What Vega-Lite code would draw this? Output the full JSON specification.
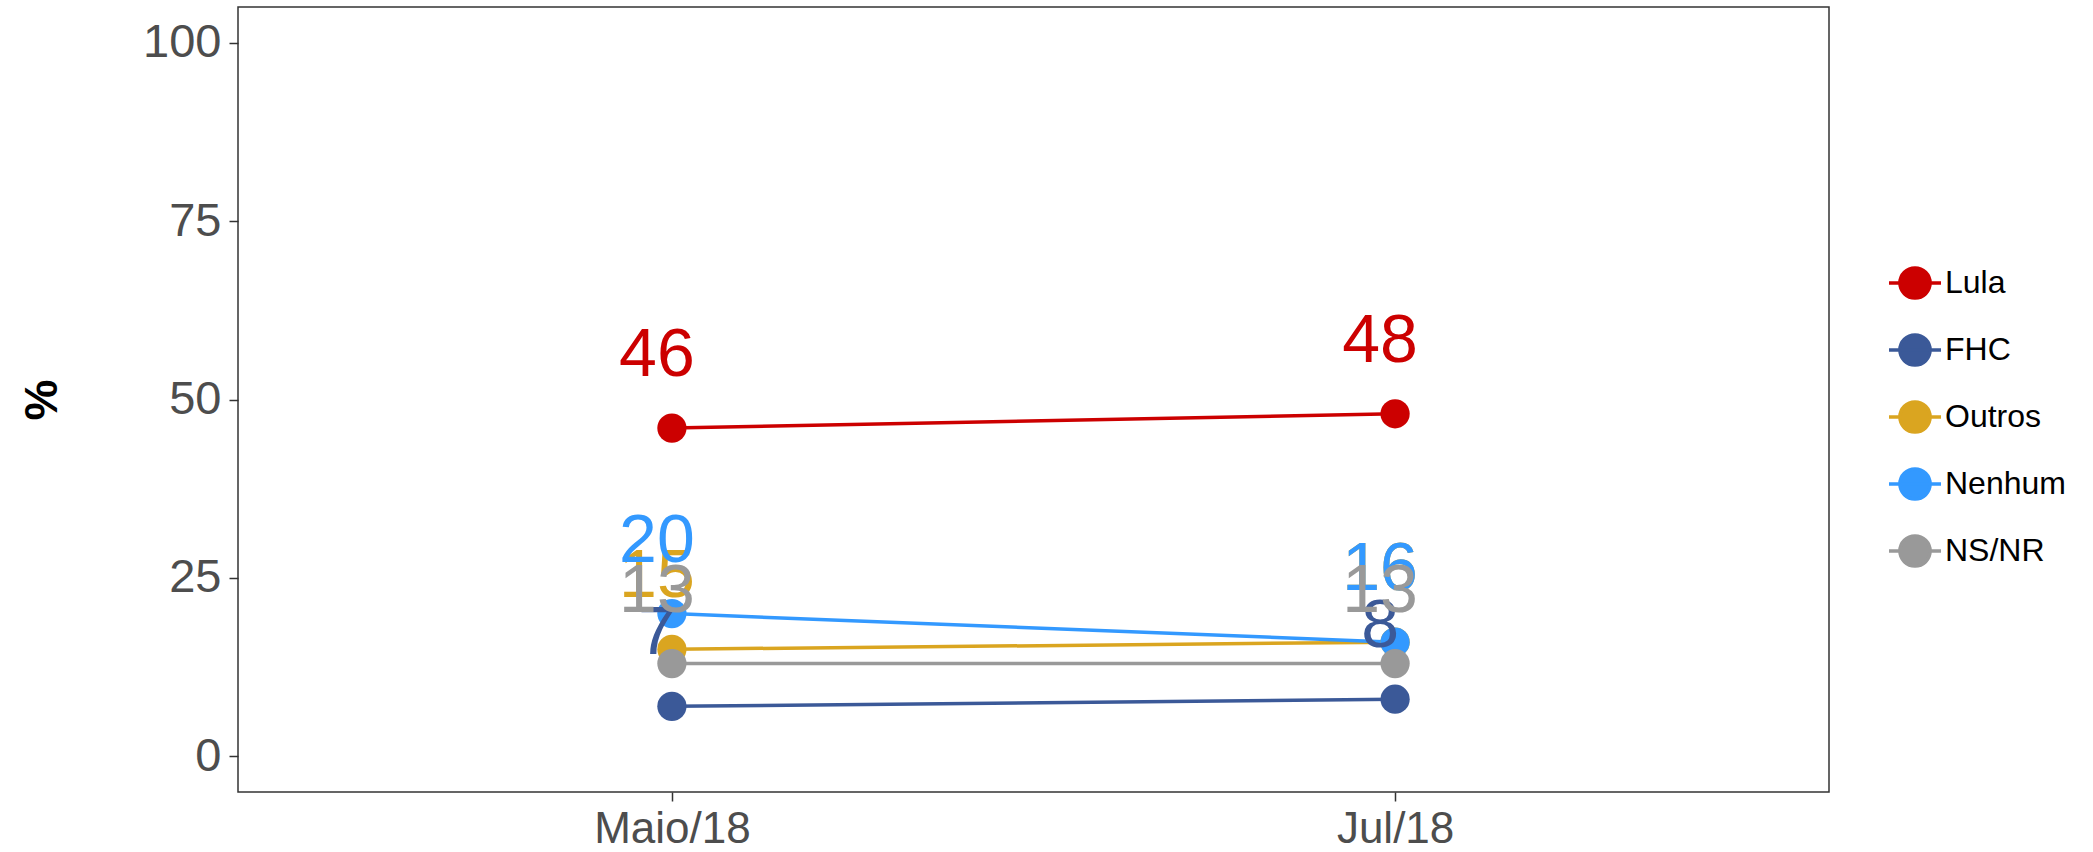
{
  "$schema": "https://vega.github.io/schema/vega-lite/v6.json",
  "autosize": {"type": "none"},
  "padding": {"left": 238, "top": 7, "right": 264, "bottom": 60},
  "width": 1591,
  "height": 785,
  "background": "white",
  "config": {
    "font": "Liberation Sans",
    "view": {"stroke": "#333333", "strokeWidth": 1.5},
    "axis": {"grid": false, "domain": false, "tickColor": "#333333", "tickSize": 9, "tickWidth": 1.5, "labelColor": "#4D4D4D", "labelFont": "Liberation Sans"}
  },
  "data": {
    "values": [
      {"pesquisa": "Maio/18", "serie": "Lula", "valor": 46},
      {"pesquisa": "Jul/18", "serie": "Lula", "valor": 48},
      {"pesquisa": "Maio/18", "serie": "FHC", "valor": 7},
      {"pesquisa": "Jul/18", "serie": "FHC", "valor": 8},
      {"pesquisa": "Maio/18", "serie": "Outros", "valor": 15},
      {"pesquisa": "Jul/18", "serie": "Outros", "valor": 16},
      {"pesquisa": "Maio/18", "serie": "Nenhum", "valor": 20},
      {"pesquisa": "Jul/18", "serie": "Nenhum", "valor": 16},
      {"pesquisa": "Maio/18", "serie": "NS/NR", "valor": 13},
      {"pesquisa": "Jul/18", "serie": "NS/NR", "valor": 13}
    ]
  },
  "encoding": {
    "x": {
      "field": "pesquisa", "type": "ordinal",
      "scale": {"type": "point", "domain": ["Maio/18", "Jul/18"], "padding": 0.6},
      "axis": {"title": null, "labelFontSize": 44, "labelAngle": 0, "labelPadding": 6}
    },
    "y": {
      "field": "valor", "type": "quantitative",
      "scale": {"domain": [-5, 105], "nice": false, "zero": false},
      "axis": {"title": "%", "values": [0, 25, 50, 75, 100], "labelFontSize": 47, "labelPadding": 8, "titleFontSize": 46, "titleFontWeight": "bold", "titleColor": "#000000", "titlePadding": 76}
    },
    "color": {
      "field": "serie", "type": "nominal",
      "scale": {"domain": ["Lula", "FHC", "Outros", "Nenhum", "NS/NR"], "range": ["#CC0000", "#3B5998", "#DAA520", "#3399FF", "#999999"]},
      "legend": {
        "title": null, "orient": "none", "legendX": 1649, "legendY": 248,
        "symbolType": "M-1,0L1,0M-0.58,0A0.58,0.58,0,1,1,0.58,0A0.58,0.58,0,1,1,-0.58,0Z",
        "symbolSize": 2704, "labelFontSize": 32, "labelColor": "#000000", "labelOffset": 2, "rowPadding": 16,
        "encode": {"symbols": {"update": {"fill": {"scale": "color", "field": "value"}, "stroke": {"scale": "color", "field": "value"}, "strokeWidth": {"value": 3.5}, "opacity": {"value": 1}, "fillOpacity": {"value": 1}}}}
      }
    }
  },
  "layer": [
    {"mark": {"type": "line", "strokeWidth": 3.5}},
    {"mark": {"type": "point", "filled": true, "size": 855, "opacity": 1}},
    {"mark": {"type": "text", "dy": -72, "dx": -15, "fontSize": 68, "font": "Liberation Sans"}, "encoding": {"text": {"field": "valor", "type": "quantitative"}}}
  ]
}
